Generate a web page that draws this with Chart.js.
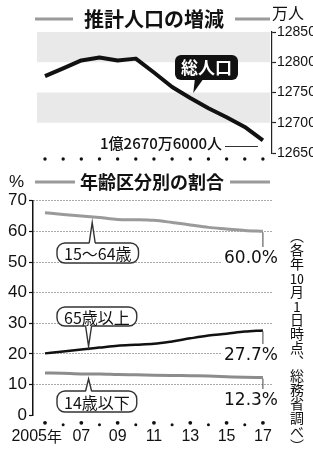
<!DOCTYPE html>
<html>
<head>
<meta charset="utf-8">
<script src="https://cdn.jsdelivr.net/npm/chart.js@4.4.1/dist/chart.umd.min.js"></script>
<style>
body{margin:0;background:#fff;width:313px;height:450px;overflow:hidden;position:relative}
canvas{position:absolute;left:0}
#popChart{top:0}
#ageChart{top:165px}
.note{position:absolute;left:289px;top:229px;height:215px;white-space:nowrap;writing-mode:vertical-rl;font-family:"Noto Sans CJK JP",sans-serif;font-size:14px;line-height:16px;color:#111}
.tcy{text-combine-upright:all}
</style>
</head>
<body>
<canvas id="popChart" width="313" height="165"></canvas>
<canvas id="ageChart" width="313" height="285"></canvas>
<div class="note">（各年<span class="tcy">10</span>月<span class="tcy">1</span>日時点、総務省調べ）</div>
<script>
// 年ごとのデータ
const years = [2005, 2006, 2007, 2008, 2009, 2010, 2011, 2012, 2013, 2014, 2015, 2016, 2017];
const yearLabels = ['2005年', '', '07', '', '09', '', '11', '', '13', '', '15', '', '17'];

// 推計人口（万人）
const totalPop = [12777, 12790, 12803, 12808, 12803, 12806, 12783, 12759, 12741, 12724, 12709, 12693, 12671];
const popTicks = [12650, 12700, 12750, 12800, 12850];
const popBands = [[12800, 12850], [12700, 12750]];

// 年齢区分別の割合（%）
const age15to64 = [66.1, 65.5, 65.0, 64.5, 63.9, 63.8, 63.6, 62.9, 62.1, 61.3, 60.8, 60.3, 60.0];
const age65over = [20.2, 20.8, 21.5, 22.1, 22.7, 23.0, 23.3, 24.1, 25.1, 26.0, 26.6, 27.3, 27.7];
const age0to14 = [13.8, 13.7, 13.5, 13.5, 13.3, 13.2, 13.1, 13.0, 12.9, 12.8, 12.6, 12.4, 12.3];
const pctTicks = [0, 10, 20, 30, 40, 50, 60, 70];

const JP = '"Noto Sans CJK JP", sans-serif';
const NUM = '"Liberation Sans", Arial, sans-serif';

function titleWithLines(ctx, text, cx, cy, size, l1, l2, r1, r2) {
  ctx.save();
  ctx.strokeStyle = '#9a9a9a';
  ctx.lineWidth = 3;
  ctx.beginPath();
  ctx.moveTo(l1, cy); ctx.lineTo(l2, cy);
  ctx.moveTo(r1, cy); ctx.lineTo(r2, cy);
  ctx.stroke();
  ctx.fillStyle = '#111';
  ctx.font = 'bold ' + size + 'px ' + JP;
  ctx.textAlign = 'center';
  ctx.textBaseline = 'middle';
  ctx.fillText(text, cx, cy);
  ctx.restore();
}

// 枠付きラベル（吹き出し）
function bubble(ctx, text, left, top, h, tipX, tipY, up) {
  ctx.save();
  ctx.font = '16px ' + JP;
  const w = ctx.measureText(text).width + 14;
  ctx.lineWidth = 1.4;
  ctx.strokeStyle = '#333';
  ctx.fillStyle = '#fff';
  ctx.beginPath();
  ctx.roundRect(left, top, w, h, 8);
  ctx.fill();
  ctx.stroke();
  const edge = up ? top : top + h;
  const inside = up ? 2 : -2;
  ctx.beginPath();
  ctx.moveTo(tipX - 3, edge + inside);
  ctx.lineTo(tipX, tipY);
  ctx.lineTo(tipX + 3, edge + inside);
  ctx.closePath();
  ctx.fill();
  ctx.beginPath();
  ctx.moveTo(tipX - 3, edge);
  ctx.lineTo(tipX, tipY);
  ctx.lineTo(tipX + 3, edge);
  ctx.stroke();
  ctx.fillStyle = '#111';
  ctx.textAlign = 'center';
  ctx.textBaseline = 'middle';
  ctx.fillText(text, left + w / 2, top + h / 2 + 1);
  ctx.restore();
}

const popDeco = {
  id: 'popDeco',
  beforeDatasetsDraw(chart) {
    const {ctx, chartArea: a, scales: {y}} = chart;
    ctx.save();
    ctx.fillStyle = '#e9e9e9';
    popBands.forEach(([lo, hi]) => {
      const y1 = y.getPixelForValue(hi), y2 = y.getPixelForValue(lo);
      ctx.fillRect(a.left, y1, a.right - a.left - 2, y2 - y1);
    });
    ctx.restore();
  },
  afterDraw(chart) {
    const {ctx, chartArea: a, scales: {x, y}} = chart;
    titleWithLines(ctx, '推計人口の増減', 154, 19, 20, 35, 73, 235, 270);
    ctx.save();
    ctx.fillStyle = '#111';
    ctx.font = '16px ' + JP;
    ctx.textBaseline = 'middle';
    ctx.fillText('万人', 272, 13);
    // 年の目盛り点
    years.forEach(yr => {
      ctx.beginPath();
      ctx.arc(x.getPixelForValue(yr), a.bottom + 6, 1.7, 0, Math.PI * 2);
      ctx.fill();
    });
    // 総人口ラベル
    ctx.fillStyle = '#111';
    ctx.beginPath();
    ctx.roundRect(175, 55, 63, 25, 6);
    ctx.fill();
    const tx = x.getPixelForValue(2013) + 3;
    const ty = y.getPixelForValue(totalPop[8]) - 5;
    ctx.beginPath();
    ctx.moveTo(195, 78);
    ctx.lineTo(tx, ty);
    ctx.lineTo(204, 78);
    ctx.closePath();
    ctx.fill();
    ctx.fillStyle = '#fff';
    ctx.font = 'bold 17px ' + JP;
    ctx.textAlign = 'center';
    ctx.fillText('総人口', 206.5, 68);
    // 最新値
    const last = totalPop.length - 1;
    const ex = x.getPixelForValue(years[last]);
    ctx.fillStyle = '#111';
    ctx.font = '500 15px ' + JP;
    ctx.textAlign = 'right';
    ctx.fillText('1億2670万6000人', 222, 143);
    ctx.strokeStyle = '#333';
    ctx.lineWidth = 1;
    ctx.beginPath();
    ctx.moveTo(225, 146.5);
    ctx.lineTo(ex - 5, 146.5);
    ctx.stroke();
    ctx.restore();
  }
};

new Chart(document.getElementById('popChart'), {
  type: 'line',
  data: {
    datasets: [{
      data: years.map((yr, i) => ({x: yr, y: totalPop[i]})),
      borderColor: '#111',
      borderWidth: 4,
      pointRadius: 0,
      borderJoinStyle: 'round'
    }]
  },
  options: {
    responsive: false,
    animation: false,
    devicePixelRatio: 1,
    layout: {padding: {left: 37, top: 32, bottom: 12, right: 0}},
    plugins: {legend: {display: false}, tooltip: {enabled: false}},
    scales: {
      x: {type: 'linear', min: 2004.56, max: 2017.5, display: false},
      y: {
        position: 'right',
        min: 12650,
        max: 12850,
        afterBuildTicks: s => { s.ticks = popTicks.map(v => ({value: v})); },
        afterFit: s => { s.width = 41; },
        grid: {drawOnChartArea: false, tickLength: 4, tickColor: '#222', tickWidth: 1.2},
        border: {display: true, color: '#222', width: 1.2},
        ticks: {padding: 1, color: '#111', font: {family: NUM, size: 14}, callback: v => String(v)}
      }
    }
  },
  plugins: [popDeco]
});

const ageDeco = {
  id: 'ageDeco',
  afterDraw(chart) {
    const {ctx, chartArea: a, scales: {x, y}} = chart;
    titleWithLines(ctx, '年齢区分別の割合', 152, 17, 18, 35, 75, 230, 270);
    ctx.save();
    ctx.fillStyle = '#111';
    ctx.font = '17px ' + NUM;
    ctx.textBaseline = 'middle';
    ctx.fillText('%', 9, 17);
    // 年ラベルと点
    ctx.font = '16px ' + NUM;
    years.forEach((yr, i) => {
      const px = x.getPixelForValue(yr);
      const big = i % 2 === 0;
      ctx.beginPath();
      ctx.arc(px, a.bottom + (big ? 7.5 : 9.5), big ? 1.9 : 1.5, 0, Math.PI * 2);
      ctx.fill();
      if (!yearLabels[i]) return;
      if (i === 0) {
        ctx.textAlign = 'right';
        ctx.font = '16px ' + NUM;
        ctx.fillText('2005', px + 2, a.bottom + 21);
        ctx.textAlign = 'left';
        ctx.font = '15px ' + JP;
        ctx.fillText('年', px + 2, a.bottom + 21);
        ctx.font = '16px ' + NUM;
      } else {
        ctx.textAlign = 'center';
        ctx.fillText(yearLabels[i], px, a.bottom + 21);
      }
    });
    ctx.restore();

    // 吹き出し
    const tip = yr => x.getPixelForValue(yr);
    bubble(ctx, '15〜64歳', 57, 78, 20, tip(2007.6), y.getPixelForValue(age15to64[3]) + 5, true);
    bubble(ctx, '65歳以上', 57, 142, 19, tip(2007.4), y.getPixelForValue(age65over[2]) - 3, false);
    bubble(ctx, '14歳以下', 57, 226, 21, tip(2007.4), y.getPixelForValue(age0to14[2]) + 5, true);

    // 最新値
    const last = years.length - 1;
    const ex = x.getPixelForValue(years[last]);
    const ends = [[age15to64, '60.0%', 93], [age65over, '27.7%', 190], [age0to14, '12.3%', 235]];
    ctx.save();
    ctx.font = '17px "DejaVu Sans", sans-serif';
    ctx.textAlign = 'right';
    ctx.textBaseline = 'middle';
    ends.forEach(([arr, txt, cy]) => {
      const w = ctx.measureText(txt).width;
      ctx.fillStyle = '#fff';
      ctx.fillRect(278 - w - 3, cy - 9, w + 6, 18);
      ctx.strokeStyle = '#444';
      ctx.lineWidth = 1;
      ctx.beginPath();
      ctx.moveTo(ex, y.getPixelForValue(arr[last]) + 1);
      ctx.lineTo(ex, cy - 11);
      ctx.stroke();
      ctx.fillStyle = '#111';
      ctx.fillText(txt, 278, cy + 1);
    });
    ctx.restore();
  }
};

new Chart(document.getElementById('ageChart'), {
  type: 'line',
  data: {
    datasets: [
      {label: '15〜64歳', data: years.map((yr, i) => ({x: yr, y: age15to64[i]})), borderColor: '#9a9a9a', borderWidth: 3},
      {label: '65歳以上', data: years.map((yr, i) => ({x: yr, y: age65over[i]})), borderColor: '#111', borderWidth: 2.5},
      {label: '14歳以下', data: years.map((yr, i) => ({x: yr, y: age0to14[i]})), borderColor: '#8c8c8c', borderWidth: 3}
    ]
  },
  options: {
    responsive: false,
    animation: false,
    devicePixelRatio: 1,
    elements: {point: {radius: 0}, line: {cubicInterpolationMode: 'monotone'}},
    layout: {padding: {left: 0, top: 35.7, bottom: 34.7, right: 41}},
    plugins: {legend: {display: false}, tooltip: {enabled: false}},
    scales: {
      x: {type: 'linear', min: 2004.34, max: 2017.5, display: false},
      y: {
        min: 0,
        max: 70,
        afterBuildTicks: s => { s.ticks = pctTicks.map(v => ({value: v})); },
        afterFit: s => { s.width = 33; },
        grid: {
          color: c => c.tick && c.tick.value === 0 ? 'rgba(0,0,0,0)' : '#555',
          lineWidth: 1,
          tickColor: '#111',
          tickLength: 4,
          tickWidth: 1.2
        },
        border: {color: '#111', width: 1.5, dash: [1, 2]},
        ticks: {padding: 2, color: '#111', font: {family: NUM, size: 17}}
      }
    }
  },
  plugins: [ageDeco]
});
</script>
</body>
</html>
